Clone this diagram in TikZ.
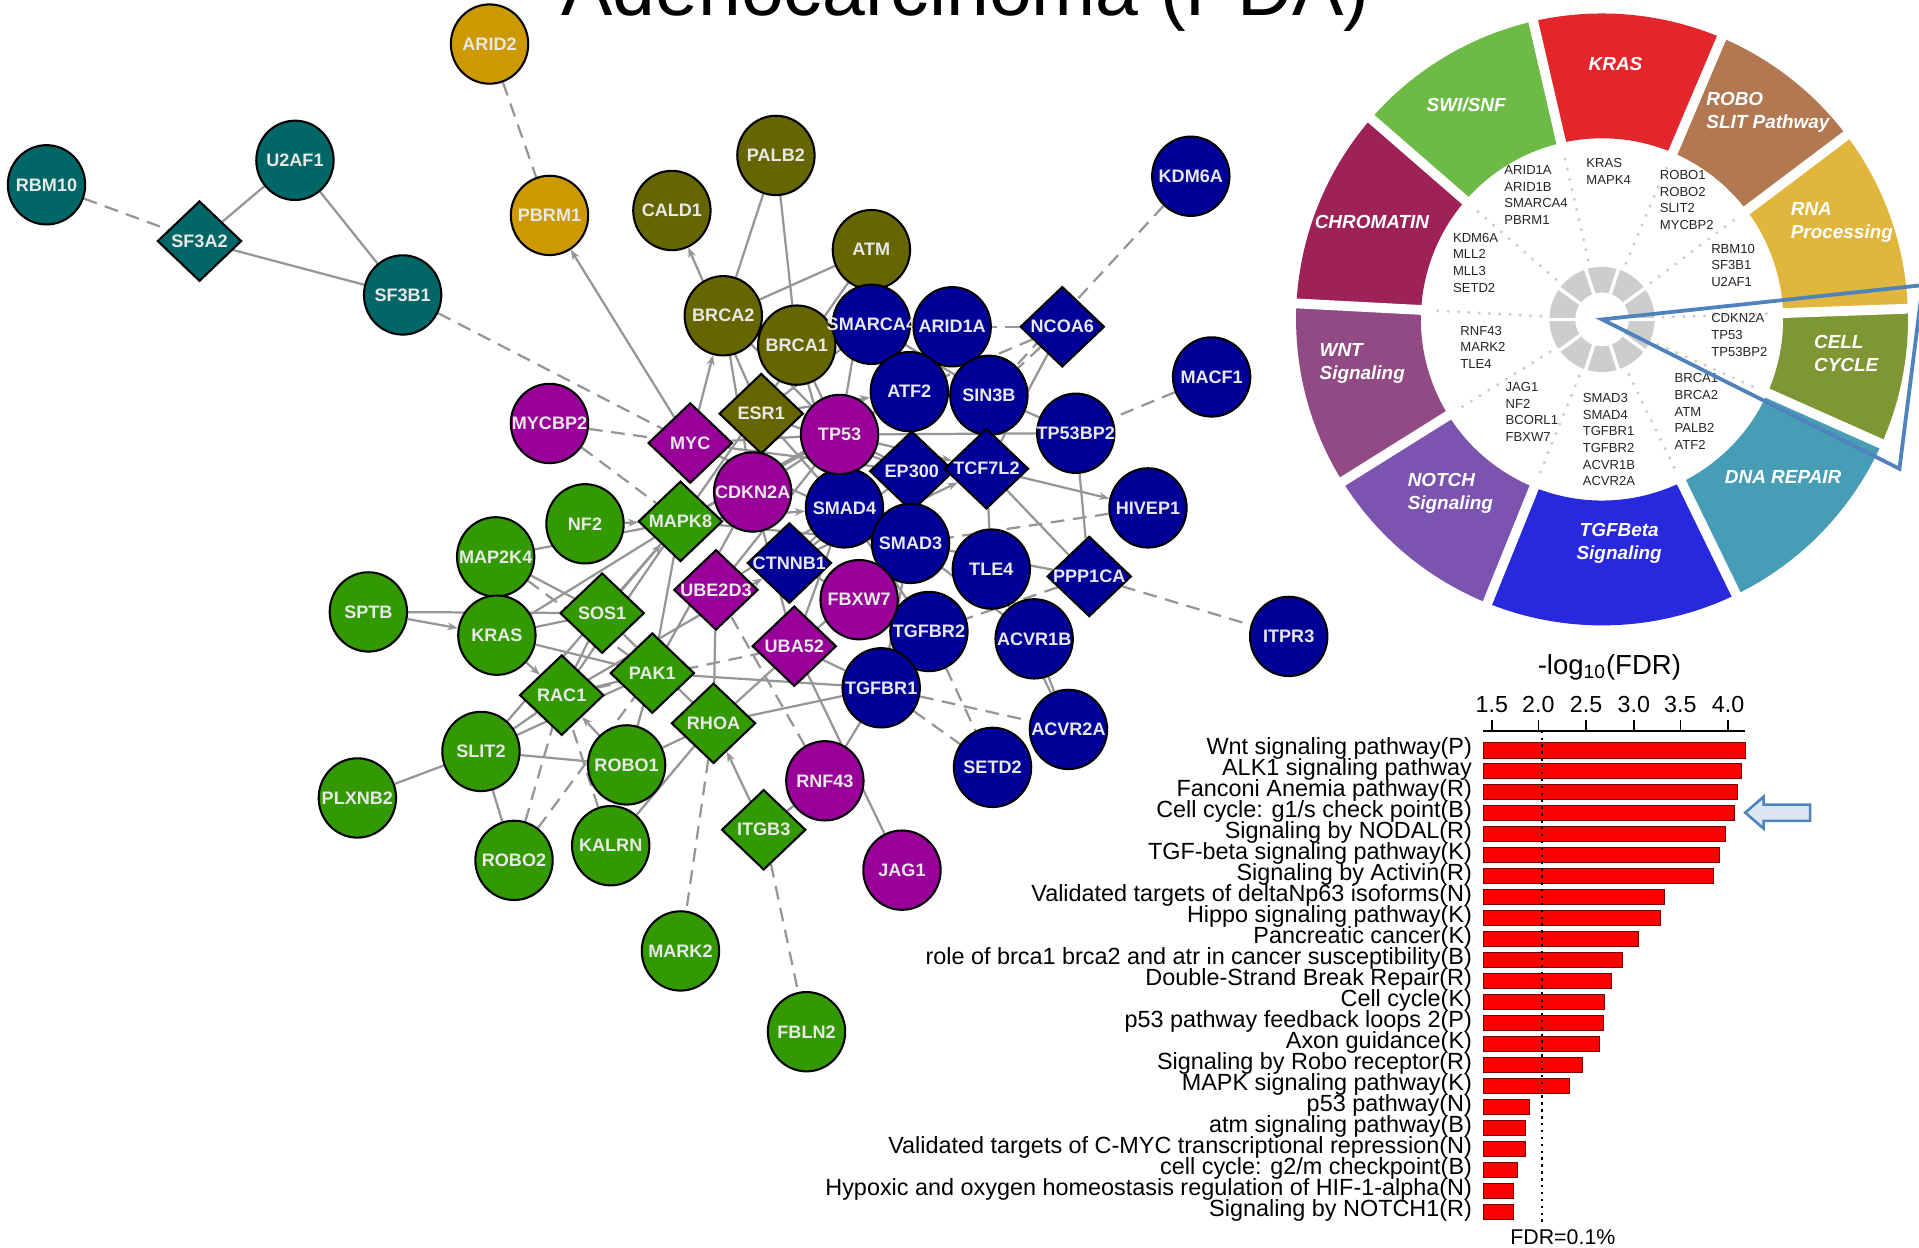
\documentclass[tikz,border=0pt]{standalone}
\usepackage{fontspec}
\setmainfont{Liberation Sans}
\definecolor{pdateal}{RGB}{0,102,102}
\definecolor{pdagold}{RGB}{204,153,0}
\definecolor{pdaolive}{RGB}{102,102,0}
\definecolor{pdanavy}{RGB}{0,0,153}
\definecolor{pdamagenta}{RGB}{153,0,153}
\definecolor{pdagreen}{RGB}{51,153,0}
\definecolor{pdalabel}{RGB}{232,232,232}
\definecolor{pdaedge}{RGB}{150,150,150}
\definecolor{whkras}{RGB}{226,38,43}
\definecolor{whrobo}{RGB}{177,120,82}
\definecolor{whrna}{RGB}{224,183,60}
\definecolor{whcell}{RGB}{126,150,52}
\definecolor{whdna}{RGB}{72,157,182}
\definecolor{whtgf}{RGB}{40,40,220}
\definecolor{whnotch}{RGB}{123,84,176}
\definecolor{whwnt}{RGB}{146,74,132}
\definecolor{whchrom}{RGB}{158,34,88}
\definecolor{whswi}{RGB}{110,186,70}
\definecolor{whring}{RGB}{205,205,205}
\definecolor{wedgeblue}{RGB}{80,130,190}
\definecolor{arrowfill}{RGB}{220,230,242}
\definecolor{barred}{RGB}{255,0,0}
\definecolor{barline}{RGB}{120,0,0}
\usetikzlibrary{arrows.meta,shapes.geometric,backgrounds}
\newcommand{\genefont}{\bfseries\fontsize{10.5}{12}\selectfont}
\newcommand{\gl}[1]{\makebox[0pt]{#1}}

\begin{document}
\begin{tikzpicture}[x=0.025cm, y=-0.025cm,
  gene/.style={ellipse, draw=black, line width=1.2pt, minimum width=1.58cm,
    minimum height=1.62cm, inner sep=0pt, text=pdalabel, font=\genefont},
  hub/.style={diamond, draw=black, line width=1.2pt, minimum width=1.72cm,
    minimum height=1.64cm, inner sep=0pt, text=pdalabel, font=\genefont},
  link/.style={draw=pdaedge, line width=1.3pt},
  dlink/.style={link, dash pattern=on 8pt off 5pt},
  alink/.style={link, -{Stealth[length=6pt,width=4.5pt]}},
  wlabel/.style={text=white, font=\bfseries\itshape\fontsize{11}{13.5}\selectfont, align=left, inner sep=0pt},
  glist/.style={anchor=north west, inner sep=0pt, align=left, text=black!85,
    font=\fontsize{7.6}{9.7}\selectfont},
  pathlabel/.style={anchor=mid east, inner sep=0pt, font=\fontsize{13.6}{14}\selectfont}]

\useasboundingbox (0,0) rectangle (1568,1019);

% Title, cut by the top edge
\begin{scope}
\clip (0,0) rectangle (1568,1019);
\node[anchor=base, inner sep=0pt, font=\fontsize{44.7}{50}\selectfont] (title) at (789,13) {Adenocarcinoma (PDA)};
\end{scope}

% RNA processing
\node[gene, fill=pdateal] (RBM10) at (38,151) {\gl{RBM10}};
\node[gene, fill=pdateal] (U2AF1) at (241,131) {\gl{U2AF1}};
\node[hub, fill=pdateal] (SF3A2) at (163,197) {\gl{SF3A2}};
\node[gene, fill=pdateal] (SF3B1) at (329,241) {\gl{SF3B1}};

% SWI/SNF
\node[gene, fill=pdagold] (ARID2) at (400,36) {\gl{ARID2}};
\node[gene, fill=pdagold] (PBRM1) at (449,176) {\gl{PBRM1}};

% DNA repair
\node[gene, fill=pdaolive] (PALB2) at (634,127) {\gl{PALB2}};
\node[gene, fill=pdaolive] (CALD1) at (549,172) {\gl{CALD1}};
\node[gene, fill=pdaolive] (ATM) at (712,204) {\gl{ATM}};
\node[gene, fill=pdaolive] (BRCA2) at (591,258) {\gl{BRCA2}};
\node[gene, fill=pdaolive] (BRCA1) at (651,282) {\gl{BRCA1}};
\node[hub, fill=pdaolive] (ESR1) at (622,338) {\gl{ESR1}};

% chromatin, TGFbeta, WNT
\node[gene, fill=pdanavy] (KDM6A) at (973,144) {\gl{KDM6A}};
\node[gene, fill=pdanavy] (SMARCA4) at (712,265) {\gl{SMARCA4}};
\node[gene, fill=pdanavy] (ARID1A) at (778,267) {\gl{ARID1A}};
\node[hub, fill=pdanavy] (NCOA6) at (868,267) {\gl{NCOA6}};
\node[gene, fill=pdanavy] (ATF2) at (743,320) {\gl{ATF2}};
\node[gene, fill=pdanavy] (SIN3B) at (808,323) {\gl{SIN3B}};
\node[gene, fill=pdanavy] (MACF1) at (990,308) {\gl{MACF1}};
\node[gene, fill=pdanavy] (TP53BP2) at (879,354) {\gl{TP53BP2}};
\node[hub, fill=pdanavy] (EP300) at (745,385) {\gl{EP300}};
\node[hub, fill=pdanavy] (TCF7L2) at (806,383) {\gl{TCF7L2}};
\node[gene, fill=pdanavy] (HIVEP1) at (938,415) {\gl{HIVEP1}};
\node[gene, fill=pdanavy] (SMAD4) at (690,415) {\gl{SMAD4}};
\node[gene, fill=pdanavy] (SMAD3) at (744,444) {\gl{SMAD3}};
\node[hub, fill=pdanavy] (CTNNB1) at (645,460) {\gl{CTNNB1}};
\node[gene, fill=pdanavy] (TLE4) at (810,465) {\gl{TLE4}};
\node[hub, fill=pdanavy] (PPP1CA) at (890,471) {\gl{PPP1CA}};
\node[gene, fill=pdanavy] (TGFBR2) at (759,516) {\gl{TGFBR2}};
\node[gene, fill=pdanavy] (ACVR1B) at (845,522) {\gl{ACVR1B}};
\node[gene, fill=pdanavy] (ITPR3) at (1053,520) {\gl{ITPR3}};
\node[gene, fill=pdanavy] (TGFBR1) at (720,562) {\gl{TGFBR1}};
\node[gene, fill=pdanavy] (ACVR2A) at (873,596) {\gl{ACVR2A}};
\node[gene, fill=pdanavy] (SETD2) at (811,627) {\gl{SETD2}};

% cell cycle, NOTCH
\node[gene, fill=pdamagenta] (MYCBP2) at (449,346) {\gl{MYCBP2}};
\node[hub, fill=pdamagenta] (MYC) at (564,362) {\gl{MYC}};
\node[gene, fill=pdamagenta] (TP53) at (686,355) {\gl{TP53}};
\node[gene, fill=pdamagenta] (CDKN2A) at (615,402) {\gl{CDKN2A}};
\node[hub, fill=pdamagenta] (UBE2D3) at (585,482) {\gl{UBE2D3}};
\node[gene, fill=pdamagenta] (FBXW7) at (702,490) {\gl{FBXW7}};
\node[hub, fill=pdamagenta] (UBA52) at (649,528) {\gl{UBA52}};
\node[gene, fill=pdamagenta] (RNF43) at (674,638) {\gl{RNF43}};
\node[gene, fill=pdamagenta] (JAG1) at (737,711) {\gl{JAG1}};

% KRAS, ROBO/SLIT
\node[gene, fill=pdagreen] (NF2) at (478,428) {\gl{NF2}};
\node[hub, fill=pdagreen] (MAPK8) at (556,426) {\gl{MAPK8}};
\node[gene, fill=pdagreen] (MAP2K4) at (405,455) {\gl{MAP2K4}};
\node[gene, fill=pdagreen] (SPTB) at (301,500) {\gl{SPTB}};
\node[gene, fill=pdagreen] (KRAS) at (406,519) {\gl{KRAS}};
\node[hub, fill=pdagreen] (SOS1) at (492,501) {\gl{SOS1}};
\node[hub, fill=pdagreen] (PAK1) at (533,550) {\gl{PAK1}};
\node[hub, fill=pdagreen] (RAC1) at (459,568) {\gl{RAC1}};
\node[hub, fill=pdagreen] (RHOA) at (583,591) {\gl{RHOA}};
\node[gene, fill=pdagreen] (SLIT2) at (393,614) {\gl{SLIT2}};
\node[gene, fill=pdagreen] (ROBO1) at (512,625) {\gl{ROBO1}};
\node[gene, fill=pdagreen] (PLXNB2) at (292,652) {\gl{PLXNB2}};
\node[gene, fill=pdagreen] (ROBO2) at (420,703) {\gl{ROBO2}};
\node[gene, fill=pdagreen] (KALRN) at (499,691) {\gl{KALRN}};
\node[hub, fill=pdagreen] (ITGB3) at (624,678) {\gl{ITGB3}};
\node[gene, fill=pdagreen] (MARK2) at (556,777) {\gl{MARK2}};
\node[gene, fill=pdagreen] (FBLN2) at (659,843) {\gl{FBLN2}};

\begin{pgfonlayer}{background}
\fill[white] (0,0) rectangle (1568,1019);
% RNA processing and SWI/SNF links
\draw[dlink] (RBM10) -- (SF3A2);
\draw[link] (SF3A2) -- (U2AF1);
\draw[link] (SF3A2) -- (SF3B1);
\draw[link] (U2AF1) -- (SF3B1);
\draw[dlink] (SF3B1) -- (MYC);
\draw[dlink] (ARID2) -- (PBRM1);
\draw[alink] (MYC) -- (PBRM1);
\draw[dlink] (MYCBP2) -- (MYC);
\draw[dlink] (MYCBP2) -- (MAPK8);
% DNA repair links
\draw[alink] (ESR1) -- (CALD1);
\draw[link] (PALB2) -- (BRCA2);
\draw[link] (PALB2) -- (BRCA1);
\draw[link] (ATM) -- (BRCA2);
\draw[alink] (MYC) -- (BRCA2);
\draw[link] (ATM) -- (TP53);
\draw[link] (ATM) -- (MAPK8);
\draw[link] (BRCA1) -- (TP53);
\draw[link] (BRCA2) -- (TP53);
\draw[link] (BRCA1) -- (SMAD4);
\draw[link] (BRCA2) -- (CDKN2A);
\draw[link] (ESR1) -- (SMAD4);
\draw[link] (ESR1) -- (EP300);
\draw[link] (ESR1) -- (SMARCA4);
\draw[alink] (ESR1) -- (ATF2);
% chromatin / TGFbeta / WNT links
\draw[dlink] (KDM6A) -- (SIN3B);
\draw[dlink] (MACF1) -- (TP53BP2);
\draw[dlink] (NCOA6) -- (ATF2);
\draw[dlink] (NCOA6) -- (SIN3B);
\draw[dlink] (NCOA6) -- (ARID1A);
\draw[link] (NCOA6) -- (TCF7L2);
\draw[link] (TP53BP2) -- (PPP1CA);
\draw[link] (TP53BP2) -- (TP53);
\draw[alink] (TCF7L2) -- (HIVEP1);
\draw[dlink] (HIVEP1) -- (SMAD3);
\draw[link] (TCF7L2) -- (PPP1CA);
\draw[dlink] (PPP1CA) -- (ITPR3);
\draw[dlink] (PPP1CA) -- (TGFBR2);
\draw[link] (PPP1CA) -- (SMAD3);
\draw[dlink] (TGFBR1) -- (ACVR2A);
\draw[dlink] (TGFBR1) -- (SETD2);
\draw[dlink] (TGFBR2) -- (SETD2);
\draw[link] (ACVR1B) -- (ACVR2A);
\draw[link] (TLE4) -- (ACVR2A);
\draw[link] (SMAD3) -- (ACVR1B);
\draw[link] (SMAD4) -- (TGFBR2);
\draw[link] (SMAD3) -- (TGFBR1);
\draw[link] (SMAD4) -- (SMAD3);
\draw[link] (TCF7L2) -- (TLE4);
\draw[link] (TCF7L2) -- (SIN3B);
\draw[alink] (CTNNB1) -- (TCF7L2);
\draw[link] (CTNNB1) -- (FBXW7);
\draw[link] (CTNNB1) -- (SMAD4);
\draw[link] (EP300) -- (SMAD3);
\draw[link] (EP300) -- (CTNNB1);
\draw[link] (EP300) -- (ATF2);
\draw[link] (ATF2) -- (SMAD3);
\draw[link] (ARID1A) -- (SMARCA4);
\draw[link] (SIN3B) -- (SMARCA4);
\draw[link] (SIN3B) -- (TP53BP2);
% cell cycle / NOTCH links
\draw[link] (TP53) -- (SMAD4);
\draw[link] (TP53) -- (EP300);
\draw[link] (TP53) -- (ATF2);
\draw[alink] (TP53) -- (TCF7L2);
\draw[link] (MYC) -- (TP53);
\draw[link] (MYC) -- (SMAD3);
\draw[link] (MYC) -- (EP300);
\draw[link] (CDKN2A) -- (TP53);
\draw[link] (UBE2D3) -- (TP53);
\draw[link] (UBE2D3) -- (SMAD4);
\draw[link] (UBA52) -- (TGFBR1);
\draw[link] (UBA52) -- (SMAD4);
\draw[link] (UBA52) -- (CDKN2A);
\draw[link] (FBXW7) -- (TGFBR2);
\draw[link] (RNF43) -- (TGFBR1);
\draw[link] (RNF43) -- (ITGB3);
\draw[dlink] (RNF43) -- (UBE2D3);
\draw[link] (JAG1) -- (UBA52);
% KRAS / ROBO-SLIT links
\draw[alink] (SPTB) -- (KRAS);
\draw[link] (SPTB) -- (SOS1);
\draw[link] (KRAS) -- (SOS1);
\draw[link] (KRAS) -- (MAPK8);
\draw[link] (MAP2K4) -- (MAPK8);
\draw[alink] (NF2) -- (MAPK8);
\draw[link] (KRAS) -- (PAK1);
\draw[alink] (KRAS) -- (RAC1);
\draw[link] (SOS1) -- (RAC1);
\draw[alink] (SOS1) -- (MAPK8);
\draw[link] (SOS1) -- (RHOA);
\draw[link] (MAP2K4) -- (SOS1);
\draw[dlink] (MAP2K4) -- (PAK1);
\draw[link] (SLIT2) -- (PLXNB2);
\draw[link] (SLIT2) -- (ROBO1);
\draw[link] (SLIT2) -- (ROBO2);
\draw[link] (SLIT2) -- (RAC1);
\draw[link] (SLIT2) -- (PAK1);
\draw[link] (SLIT2) -- (MAPK8);
\draw[link] (ROBO1) -- (RHOA);
\draw[link] (ROBO1) -- (PAK1);
\draw[alink] (ROBO1) -- (RAC1);
\draw[link] (KALRN) -- (RHOA);
\draw[dlink] (KALRN) -- (RAC1);
\draw[dlink] (ROBO2) -- (PAK1);
\draw[dlink] (ROBO2) -- (RAC1);
\draw[alink] (ITGB3) -- (RHOA);
\draw[dlink] (RHOA) -- (MARK2);
\draw[dlink] (ITGB3) -- (FBLN2);
\draw[link] (RHOA) -- (TGFBR1);
\draw[link] (RHOA) -- (SMAD3);
\draw[link] (RHOA) -- (UBE2D3);
\draw[link] (PAK1) -- (CDKN2A);
\draw[link] (PAK1) -- (TGFBR1);
\draw[link] (PAK1) -- (MAPK8);
\draw[dlink] (RAC1) -- (UBA52);
\draw[link] (RAC1) -- (PAK1);
\draw[link] (RAC1) -- (MAPK8);
\draw[alink] (RAC1) -- (CTNNB1);
\draw[alink] (MAPK8) -- (SMAD4);
\draw[link] (MAPK8) -- (TP53);
\draw[link] (MAPK8) -- (SMAD3);
\draw[link] (MAPK8) -- (ATF2);
\end{pgfonlayer}

% Pathway wheel
\begin{scope}[shift={(1309,261)}, y=0.025cm]
\foreach \a/\b/\c in {67/103/whkras, 37/67/whrobo, 2/37/whrna, -24/2/whcell,
    -64/-24/whdna, -112/-64/whtgf, -148/-112/whnotch, -183/-148/whwnt,
    -221/-183/whchrom, -257/-221/whswi}
  \fill[\c] (\a:148) arc[start angle=\a, end angle=\b, radius=148]
    -- (\b:250) arc[start angle=\b, end angle=\a, radius=250] -- cycle;
\foreach \a in {103,67,37,2,-24,-64,-112,-148,-183,-221} {
  \draw[white, line width=0.2cm] (\a:138) -- (\a:262);
  \draw[whring, line width=2pt, dash pattern=on 0pt off 6pt, line cap=round] (\a:50) -- (\a:138);
}
% inner ring
\fill[whring, even odd rule] (0,0) circle[radius=43] (0,0) circle[radius=22];
\foreach \a in {0,36,...,324}
  \draw[white, line width=0.07cm] (\a:20) -- (\a:45);
\end{scope}

% segment names
\node[wlabel] (wkras) at (1320,52) {KRAS};
\node[wlabel, anchor=west] (wrobo) at (1394,92) {ROBO\\SLIT Pathway};
\node[wlabel, anchor=west] (wrna) at (1463,182) {RNA\\Processing};
\node[wlabel, anchor=west] (wcell) at (1482,289) {CELL\\CYCLE};
\node[wlabel] (wdna) at (1457,390) {DNA REPAIR};
\node[wlabel, align=center] (wtgf) at (1323,444) {TGFBeta\\Signaling};
\node[wlabel, anchor=west] (wnotch) at (1150,403) {NOTCH\\Signaling};
\node[wlabel, anchor=west] (wwnt) at (1078,297) {WNT\\Signaling};
\node[wlabel] (wchrom) at (1121,181) {CHROMATIN};
\node[wlabel] (wswi) at (1198,86) {SWI/SNF};

% gene lists inside the wheel
\node[glist] (lswi) at (1229,135) {ARID1A\\ARID1B\\SMARCA4\\PBRM1};
\node[glist] (lkras) at (1296,129) {KRAS\\MAPK4};
\node[glist] (lrobo) at (1356,139) {ROBO1\\ROBO2\\SLIT2\\MYCBP2};
\node[glist] (lrna) at (1398,199) {RBM10\\SF3B1\\U2AF1};
\node[glist] (lcell) at (1398,256) {CDKN2A\\TP53\\TP53BP2};
\node[glist] (ldna) at (1368,305) {BRCA1\\BRCA2\\ATM\\PALB2\\ATF2};
\node[glist] (ltgf) at (1293,321) {SMAD3\\SMAD4\\TGFBR1\\TGFBR2\\ACVR1B\\ACVR2A};
\node[glist] (lnotch) at (1230,312) {JAG1\\NF2\\BCORL1\\FBXW7};
\node[glist] (lwnt) at (1193,266) {RNF43\\MARK2\\TLE4};
\node[glist] (lchrom) at (1187,190) {KDM6A\\MLL2\\MLL3\\SETD2};

% call-out wedge
\draw[wedgeblue, line width=2.2pt, line join=miter] (1309,261) -- (1571,233) -- (1552,383) -- cycle;

% Enrichment bars
\node[font=\fontsize{16}{18}\selectfont, inner sep=0pt] (axtitle) at (1315,545) {-log\textsubscript{10}(FDR)};
\draw[black, line width=1.2pt] (1212,597) -- (1426,597);
\foreach \tx/\tv [count=\k] in {1219/1.5, 1257/2.0, 1296/2.5, 1335/3.0, 1373/3.5, 1412/4.0} {
  \draw[black, line width=1pt] (\tx,597) -- (\tx,588);
  \node[anchor=base, inner sep=0pt, font=\fontsize{13.5}{14}\selectfont] (tick\k) at (\tx,582) {\tv};
}
\foreach \lab/\xe [count=\k] in {
  {Wnt signaling pathway(P)}/1426,
  {ALK1 signaling pathway}/1423,
  {Fanconi Anemia pathway(R)}/1420,
  {Cell cycle: g1/s check point(B)}/1417,
  {Signaling by NODAL(R)}/1410,
  {TGF-beta signaling pathway(K)}/1405,
  {Signaling by Activin(R)}/1400,
  {Validated targets of deltaNp63 isoforms(N)}/1360,
  {Hippo signaling pathway(K)}/1357,
  {Pancreatic cancer(K)}/1339,
  {role of brca1 brca2 and atr in cancer susceptibility(B)}/1326,
  {Double-Strand Break Repair(R)}/1317,
  {Cell cycle(K)}/1311,
  {p53 pathway feedback loops 2(P)}/1310,
  {Axon guidance(K)}/1307,
  {Signaling by Robo receptor(R)}/1293,
  {MAPK signaling pathway(K)}/1282,
  {p53 pathway(N)}/1250,
  {atm signaling pathway(B)}/1246,
  {Validated targets of C-MYC transcriptional repression(N)}/1246,
  {cell cycle: g2/m checkpoint(B)}/1240,
  {Hypoxic and oxygen homeostasis regulation of HIF-1-alpha(N)}/1237,
  {Signaling by NOTCH1(R)}/1237} {
  \pgfmathsetmacro{\yb}{613+17.14*(\k-1)}
  \fill[barred, draw=barline, line width=0.5pt] (1212,{\yb-6.3}) rectangle (\xe,{\yb+6.3});
  \node[pathlabel] (path\k) at (1203,\yb) {\lab};
}
\draw[black, line width=1.4pt, dash pattern=on 1.4pt off 2.6pt] (1260,597) -- (1260,1000);
\node[font=\fontsize{12.4}{14}\selectfont, inner sep=0pt] (fdr) at (1277,1011) {FDR=0.1\%};

% hollow pointer to the cell cycle bar
\draw[wedgeblue, fill=arrowfill, line width=1.5pt, line join=miter]
  (1426,664) -- (1441,651) -- (1441,657.5) -- (1479,657.5) -- (1479,670.7)
  -- (1441,670.7) -- (1441,677) -- cycle;

\end{tikzpicture}
\end{document}
